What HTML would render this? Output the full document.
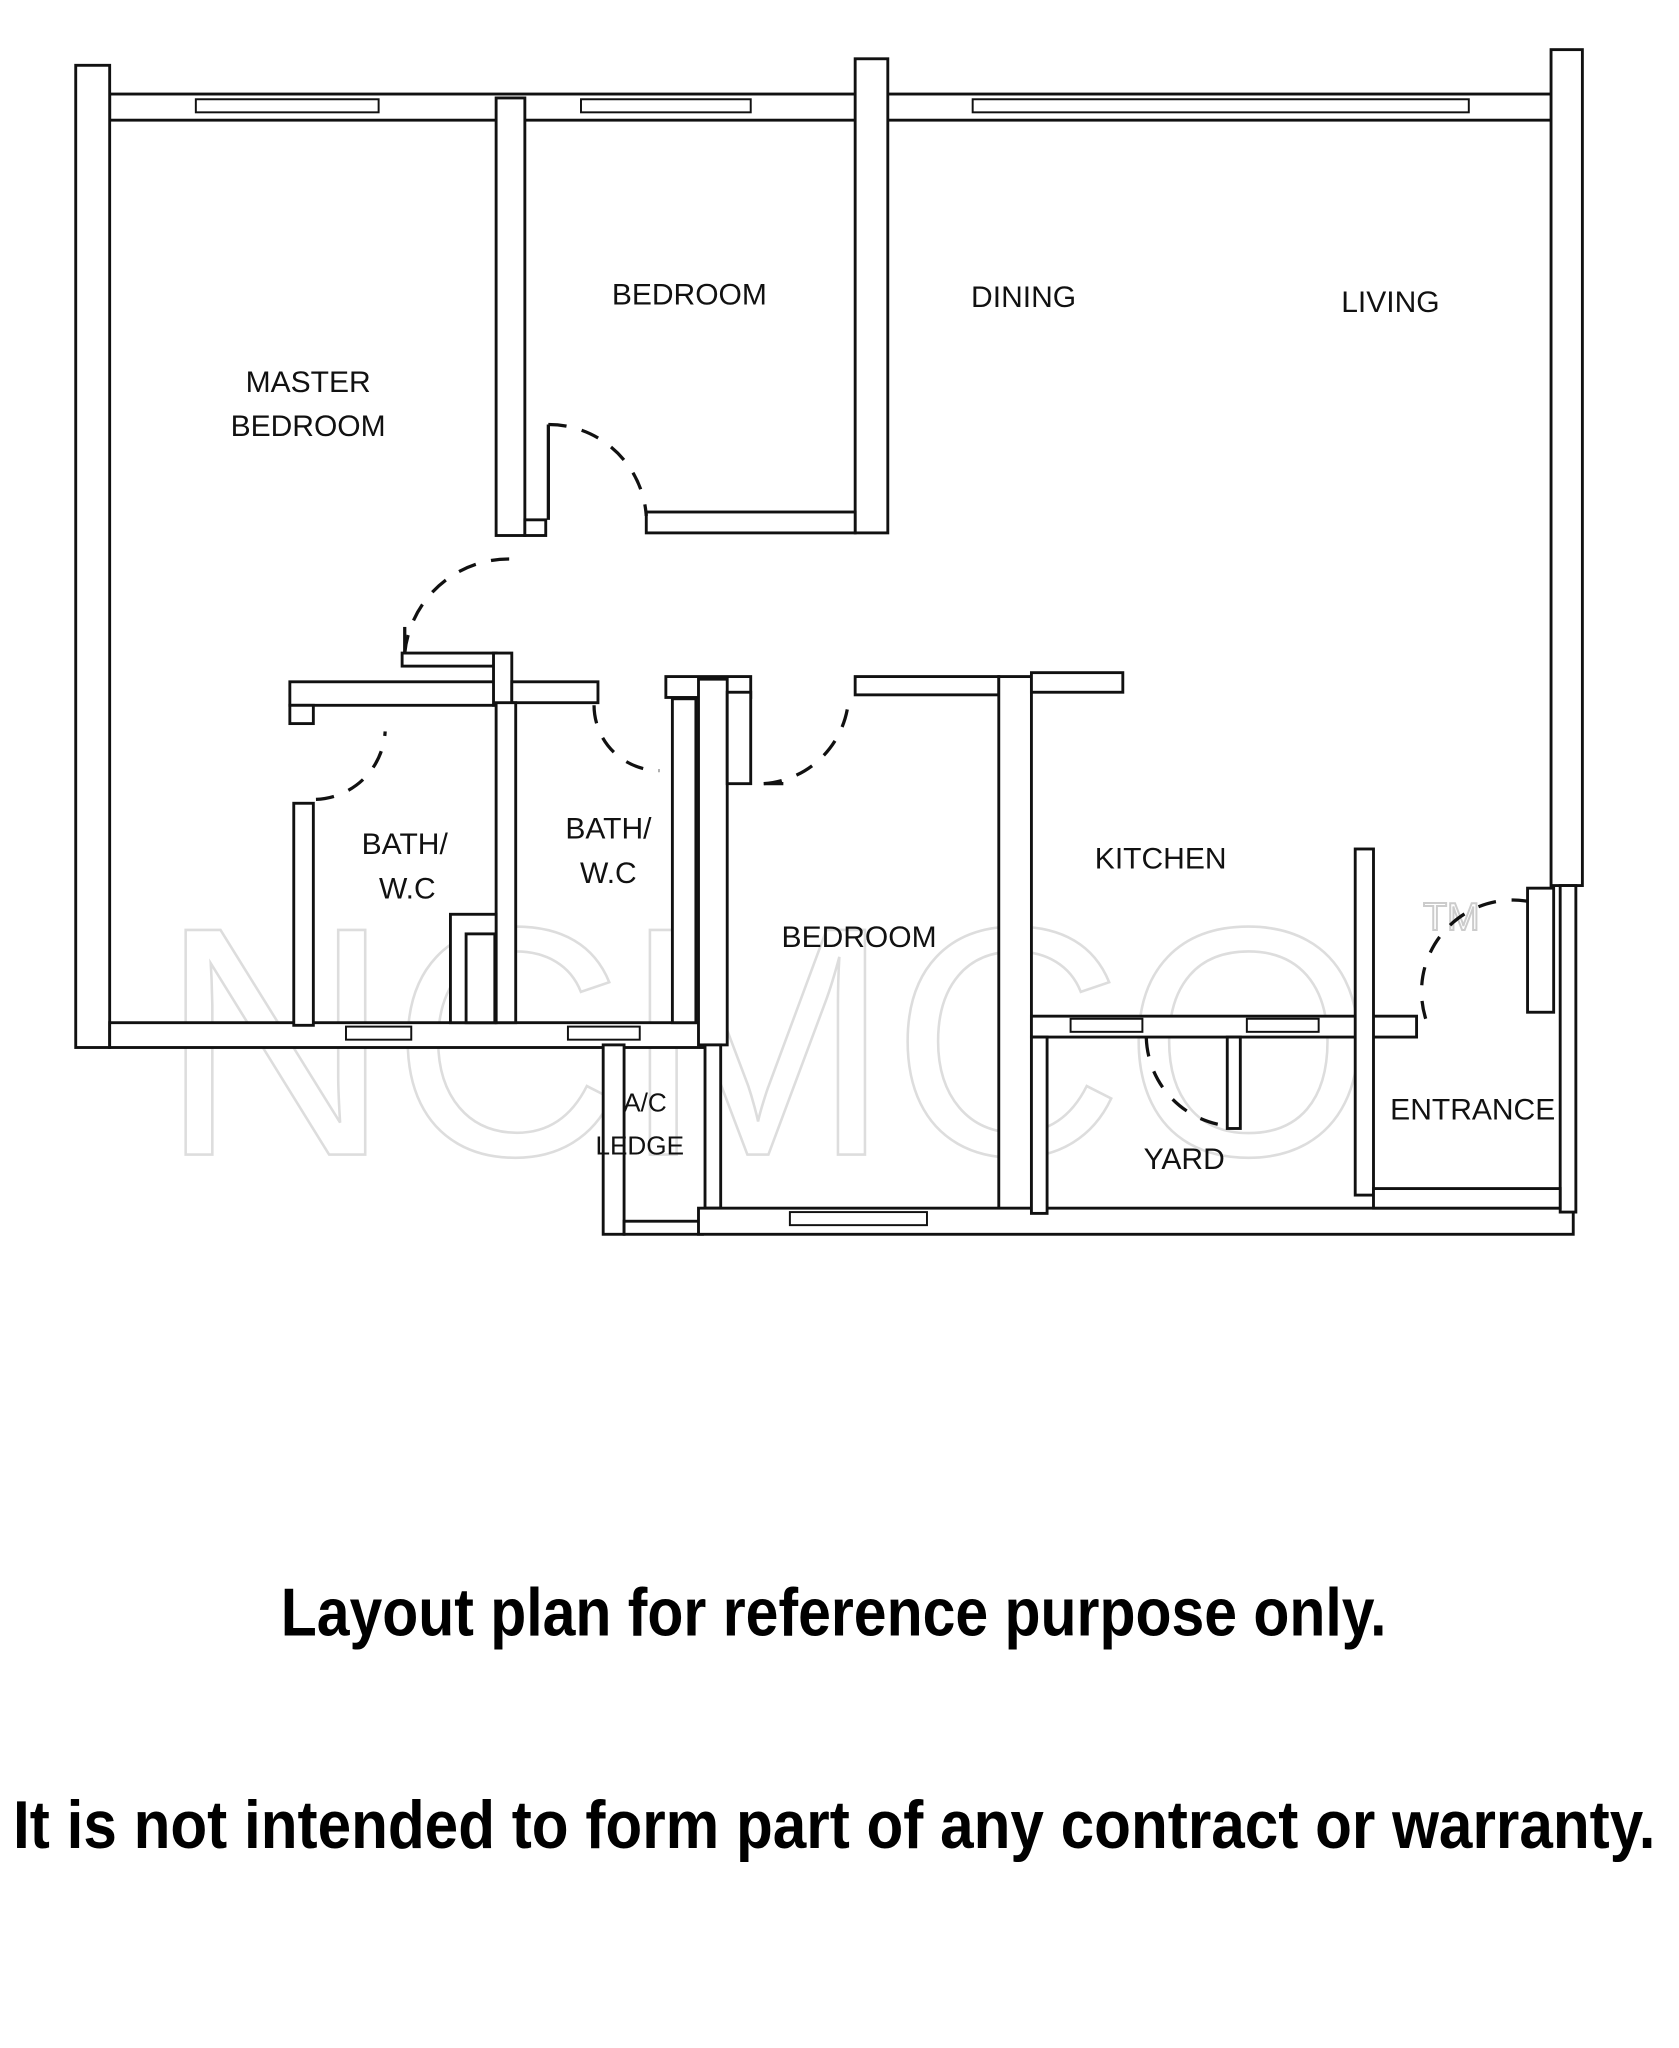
<!DOCTYPE html>
<html><head><meta charset="utf-8"><style>
html,body{margin:0;padding:0;background:#fff;}
svg{display:block;}
</style></head><body>
<svg width="1679" height="2048" viewBox="0 0 1286 1568" preserveAspectRatio="none" xmlns="http://www.w3.org/2000/svg">
<rect width="1286" height="1568" fill="#fff"/>
<!-- watermark -->
<text x="122" y="884" font-family="Liberation Sans, sans-serif" font-size="250" fill="none" stroke="#ddd" stroke-width="2" textLength="930" lengthAdjust="spacingAndGlyphs">NCMCO</text>
<text x="1090" y="712" font-family="Liberation Sans, sans-serif" font-size="30" fill="none" stroke="#ccc" stroke-width="1.5">TM</text>
<g fill="#fff" stroke="#111" stroke-width="2.2">
<!-- top wall -->
<rect x="84" y="72" width="1106" height="20"/>
<!-- left outer -->
<rect x="58" y="50" width="26" height="752"/>
<!-- pillars -->
<rect x="380" y="75" width="22" height="335"/>
<rect x="655" y="45" width="25" height="363"/>
<rect x="1188" y="38" width="24" height="640"/>
<!-- bedroom bottom -->
<rect x="495" y="392" width="160" height="16"/>
<rect x="402" y="398" width="16" height="12"/>
<!-- master bottom -->
<rect x="84" y="783" width="456" height="19"/>
<!-- bath top walls -->
<rect x="222" y="522" width="158" height="18"/>
<rect x="222" y="540" width="18" height="14"/>
<rect x="308" y="500" width="72" height="10"/>
<rect x="378" y="500" width="14" height="40"/>
<rect x="392" y="522" width="66" height="16"/>
<rect x="510" y="518" width="65" height="16"/>
<rect x="225" y="615" width="15" height="170"/>
<rect x="380" y="538" width="15" height="245"/>
<rect x="345" y="700" width="35" height="83"/>
<rect x="357" y="715" width="22" height="68"/>
<rect x="515" y="535" width="18" height="248"/>
<!-- middle bedroom -->
<rect x="535" y="520" width="22" height="280"/>
<rect x="557" y="530" width="18" height="70"/>
<rect x="655" y="518" width="110" height="14"/>
<rect x="765" y="518" width="25" height="420"/>
<rect x="790" y="515" width="70" height="15"/>
<rect x="540" y="800" width="12" height="125"/>
<!-- A/C ledge -->
<rect x="462" y="800" width="16" height="145"/>
<rect x="478" y="935" width="60" height="10"/>
<!-- bottom outer -->
<rect x="535" y="925" width="670" height="20"/>
<rect x="1195" y="678" width="12" height="250"/>
<rect x="1170" y="680" width="20" height="95"/>
<!-- kitchen/yard -->
<rect x="790" y="778" width="295" height="16"/>
<rect x="940" y="794" width="10" height="70"/>
<rect x="1038" y="650" width="14" height="265"/>
<rect x="1052" y="910" width="143" height="15"/>
<rect x="790" y="794" width="12" height="135"/>
</g>
<!-- windows -->
<g stroke="#111" stroke-width="1.5" fill="none">
<rect x="150" y="76" width="140" height="10"/>
<rect x="445" y="76" width="130" height="10"/>
<rect x="745" y="76" width="380" height="10"/>
<rect x="265" y="786" width="50" height="10"/>
<rect x="435" y="786" width="55" height="10"/>
<rect x="605" y="928" width="105" height="10"/>
<rect x="820" y="780" width="55" height="10"/>
<rect x="955" y="780" width="55" height="10"/>
</g>
<!-- door swings -->
<g stroke="#111" stroke-width="2.5" fill="none" stroke-dasharray="14,12">
<path d="M420 325 A75 75 0 0 1 495 395"/>
<path d="M390 428 A80 80 0 0 0 310 500"/>
<path d="M242 612 A55 55 0 0 0 295 560"/>
<path d="M455 540 A50 50 0 0 0 505 590"/>
<path d="M585 600 A70 70 0 0 0 650 535"/>
<path d="M878 795 A70 70 0 0 0 940 862"/>
<path d="M1092 780 A70 70 0 0 1 1170 690"/>
</g>
<g stroke="#111" stroke-width="2.5" fill="none">
<path d="M420 325 L420 398"/>
<path d="M310 500 L310 480"/>
<path d="M585 600 L600 600"/>
</g>
<!-- labels -->
<g font-family="Liberation Sans, sans-serif" font-size="23" fill="#111" text-anchor="middle">
<text x="528" y="233">BEDROOM</text>
<text x="784" y="235">DINING</text>
<text x="1065" y="239">LIVING</text>
<text x="236" y="300">MASTER</text>
<text x="236" y="334">BEDROOM</text>
<text x="310" y="654">BATH/</text>
<text x="312" y="688">W.C</text>
<text x="466" y="642">BATH/</text>
<text x="466" y="676">W.C</text>
<text x="658" y="725">BEDROOM</text>
<text x="889" y="665">KITCHEN</text>
<text x="494" y="851" font-size="20">A/C</text>
<text x="490" y="884" font-size="20">LEDGE</text>
<text x="907" y="895">YARD</text>
<text x="1128" y="857">ENTRANCE</text>
</g>
<g font-family="Liberation Sans Narrow, Liberation Sans, sans-serif" font-weight="bold" font-size="52" fill="#000">
<text x="215" y="1252" textLength="847" lengthAdjust="spacingAndGlyphs">Layout plan for reference purpose only.</text>
<text x="10" y="1415" textLength="1258" lengthAdjust="spacingAndGlyphs">It is not intended to form part of any contract or warranty.</text>
</g>
</svg>
</body></html>
